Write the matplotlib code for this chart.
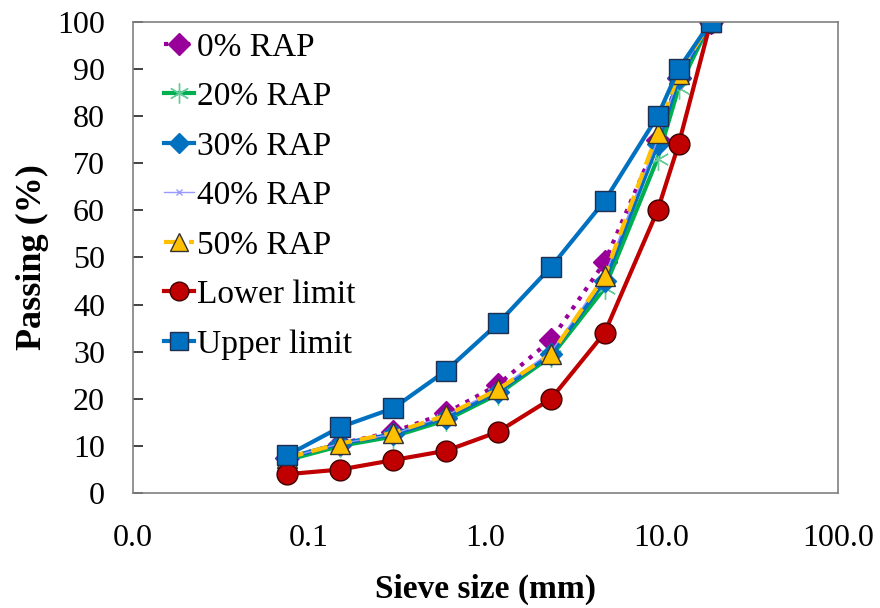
import matplotlib.pyplot as plt
from matplotlib.ticker import FixedLocator, NullLocator, FuncFormatter

plt.rcParams['font.family'] = ['Liberation Serif', 'DejaVu Serif']

# Data
sieve = [0.075, 0.15, 0.3, 0.6, 1.18, 2.36, 4.75, 9.5, 12.5, 19]
rap0 = [7.5, 10.5, 13, 17, 23, 32.5, 49, 75, 88, 100]
rap20 = [7, 10, 12, 15.5, 21, 29, 43.5, 71, 86, 100]
rap30 = [7.5, 10.5, 12.5, 16, 21.5, 29.5, 45, 74, 88, 100]
rap40 = [7.5, 10.5, 12.5, 16.5, 22, 30, 46, 75, 88.5, 100]
rap50 = [7.5, 10.5, 12.8, 16.5, 22, 29.5, 46, 76.5, 89, 100]
lower = [4, 5, 7, 9, 13, 20, 34, 60, 74, 100]
upper = [8, 14, 18, 26, 36, 48, 62, 80, 90, 100]

fig = plt.figure(figsize=(8.8, 6.08), dpi=100)
ax = fig.add_axes([0.151, 0.189, 0.801, 0.775])

ax.plot(sieve, rap0, ls=':', lw=3, color='#990099', marker='D', ms=12,
        mfc='#990099', mec='#990099', label='0% RAP')
ax.plot(sieve, rap20, ls='-', lw=3, color='#00B050', marker=(6, 2, 0), ms=16,
        mec='#66CC99', mew=1, label='20% RAP')
ax.plot(sieve, rap30, ls='-', lw=3, color='#0070C0', marker='D', ms=11,
        mfc='#0070C0', mec='#0070C0', label='30% RAP')
ax.plot(sieve, rap40, ls='-', lw=1, color='#9999FF', marker='x', ms=5,
        mec='#9999FF', label='40% RAP')
ax.plot(sieve, rap50, ls=(0, (4, 2)), lw=3, color='#FFC000', marker='^', ms=15,
        mfc='#FFC000', mec='#333333', mew=1, label='50% RAP')
ax.plot(sieve, lower, ls='-', lw=3, color='#C00000', marker='o', ms=15,
        mfc='#C00000', mec='#400000', mew=1, label='Lower limit')
ax.plot(sieve, upper, ls='-', lw=3, color='#0070C0', marker='s', ms=15,
        mfc='#0070C0', mec='#1F2F4F', mew=1, label='Upper limit')

ax.set_xscale('log')
ax.set_xlim(0.01, 100)
ax.set_ylim(0, 100)
ax.xaxis.set_major_locator(FixedLocator([0.01, 0.1, 1, 10, 100]))
ax.xaxis.set_minor_locator(NullLocator())
ax.xaxis.set_major_formatter(FuncFormatter(lambda v, _: f'{v:.1f}'))
ax.set_yticks(range(0, 101, 10))

ax.tick_params(axis='x', length=0, labelsize=23, pad=22)
ax.tick_params(axis='y', direction='in', length=7, width=1.2, color='#222222',
               labelsize=23, pad=20)

for s in ax.spines.values():
    s.set_color('#808080')
    s.set_linewidth(1.2)

ax.set_xlabel('Sieve size (mm)', fontsize=24, fontweight='bold', labelpad=15)
ax.set_ylabel('Passing (%)', fontsize=26, fontweight='bold', labelpad=6)

ax.legend(loc='upper left', bbox_to_anchor=(0.011, 1.028), frameon=False,
          fontsize=24, handlelength=0.9, handletextpad=0.1,
          labelspacing=0.57, markerscale=0.9, borderaxespad=0.3)

fig.savefig('out.png', dpi=100)
